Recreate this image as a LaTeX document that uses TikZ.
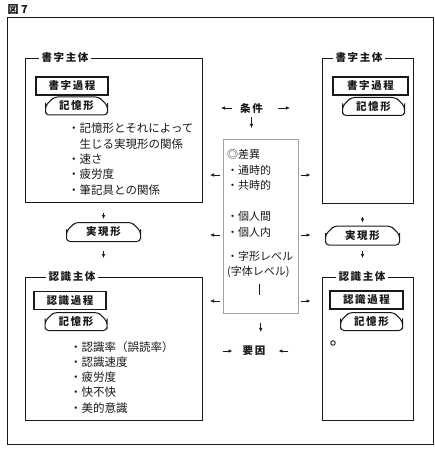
\documentclass[tikz,border=0pt]{standalone}
\usepackage{fontspec}
\setmainfont{Noto Sans CJK JP}
\usepackage{tikz}
\usetikzlibrary{arrows.meta, positioning, calc, shapes.misc}
\usepackage{xcolor}
\definecolor{ink}{RGB}{25,25,25}
\definecolor{faint}{RGB}{160,160,160}

\begin{document}
\begin{tikzpicture}[x=1pt, y=-1pt, ink,
  lbl/.style={font=\fontsize{10.5}{12}\selectfont\bfseries\addfontfeature{LetterSpace=15}},
  frame/.style={draw, line width=0.8pt, anchor=north west, inner sep=0pt},
  tag/.style={lbl, fill=white, inner sep=3pt},
  proc/.style={lbl, draw, line width=1.1pt, minimum width=72pt, minimum height=18pt, inner sep=0pt},
  memo/.style={lbl, draw, line width=1pt, chamfered rectangle,
    chamfered rectangle corners={north west, north east},
    chamfered rectangle xsep=6pt, rounded corners=3.5pt,
    minimum width=62pt, minimum height=18pt, inner sep=0pt},
  real/.style={memo, minimum width=74pt, minimum height=19pt},
  list/.style={font=\fontsize{11.5}{15.3}\selectfont, align=left, inner sep=0pt, anchor=north west},
  arr/.style={-{Latex[length=4pt,width=3.5pt]}, line width=0.6pt}]
  \useasboundingbox (0,0) rectangle (435,449);

  \node[font=\fontsize{11}{12}\selectfont\bfseries, anchor=west] (fig) at (4,10) {図 7};
  \draw[line width=0.9pt] (7,17) rectangle (433,444);

  % writing side (left)
  \node[frame, minimum width=177pt, minimum height=144pt] (sl) at (25,58) {};
  \node[tag] at (65,58) {書字主体};
  \node[proc] (pl) at (72,86) {書字過程};
  \node[memo] (ml) at (76.5,106) {記憶形};
  \node[list] (tl) at (68,123) {・記憶形とそれによって\\\hspace*{1em}生じる実現形の関係\\・速さ\\・疲労度\\・筆記具との関係};

  \node[real] (rxl) at (103.5,232) {実現形};
  \draw[arr, shorten <=10pt, shorten >=3pt] (sl.south -| rxl.north) -- (rxl.north);

  % reading side (left)
  \node[frame, minimum width=177pt, minimum height=143pt] (rl) at (25,277) {};
  \node[tag] at (72,277) {認識主体};
  \draw[arr, shorten <=9pt, shorten >=19pt] (rxl.south) -- (rxl.south |- rl.north);
  \node[proc] (ql) at (70,300.5) {認識過程};
  \node[memo] (nl) at (76,321.5) {記憶形};
  \node[list] (ul) at (70,341) {・認識率（誤読率）\\・認識速度\\・疲労度\\・快不快\\・美的意識};

  % writing side (right)
  \node[frame, minimum width=91pt, minimum height=145pt] (sr) at (322,58) {};
  \node[tag] at (359,58) {書字主体};
  \node[proc, minimum width=75pt] (pr) at (370.5,86) {書字過程};
  \node[memo] (mr) at (373.5,106.5) {記憶形};

  \node[real] (rxr) at (362.5,235.5) {実現形};
  \draw[arr, shorten <=13pt, shorten >=3pt] (sr.south -| rxr.north) -- (rxr.north);

  % reading side (right)
  \node[frame, minimum width=91pt, minimum height=143pt] (rr) at (322,277) {};
  \node[tag] at (362,277) {認識主体};
  \draw[arr, shorten <=5pt, shorten >=19pt] (rxr.south) -- (rxr.south |- rr.north);
  \node[proc, minimum width=73pt] (qr) at (366.5,300) {認識過程};
  \node[memo] (nr) at (371.5,321.5) {記憶形};
  \node[circle, draw, inner sep=0pt, minimum size=4.5pt, line width=0.9pt] (dot) at (333,343) {};

  % conditions and differences
  \node[lbl, inner sep=2pt] (cond) at (251.5,108) {条件};
  \draw[arr] ([xshift=-6pt]cond.west) -- ([xshift=-17pt]cond.west);
  \draw[arr] ([xshift=13pt]cond.east) -- ([xshift=25pt]cond.east);

  \node[frame, draw=faint, line width=0.5pt, minimum width=75pt, minimum height=174pt] (diff) at (223,139) {};
  \draw[arr, shorten <=2pt, shorten >=11pt] (cond.south) -- (cond.south |- diff.north);
  \node[list, font=\fontsize{11}{15.5}\selectfont] (td) at (227,149.5) {◎差異\\・通時的\\・共時的\\[15.5pt]・個人間\\・個人内\\[8.5pt]・字形レベル\\(字体レベル)};
  \draw[line width=0.6pt] (259,284) -- (259,295);

  \foreach \y in {175,235,301} {
    \draw[arr, shorten <=3pt] (diff.west |- 0,\y) -- ++(-13,0);
    \draw[arr, shorten <=2pt] (diff.east |- 0,\y) -- ++(12,0);
  }

  \node[lbl, inner sep=2pt] (cause) at (254,351) {要因};
  \draw[arr, shorten <=9pt, shorten >=12pt] (diff.south) -- (diff.south |- cause.north);
  \draw[arr] ([xshift=-18pt]cause.west) -- ([xshift=-8pt]cause.west);
  \draw[arr] ([xshift=21pt]cause.east) -- ([xshift=11pt]cause.east);
\end{tikzpicture}
\end{document}
